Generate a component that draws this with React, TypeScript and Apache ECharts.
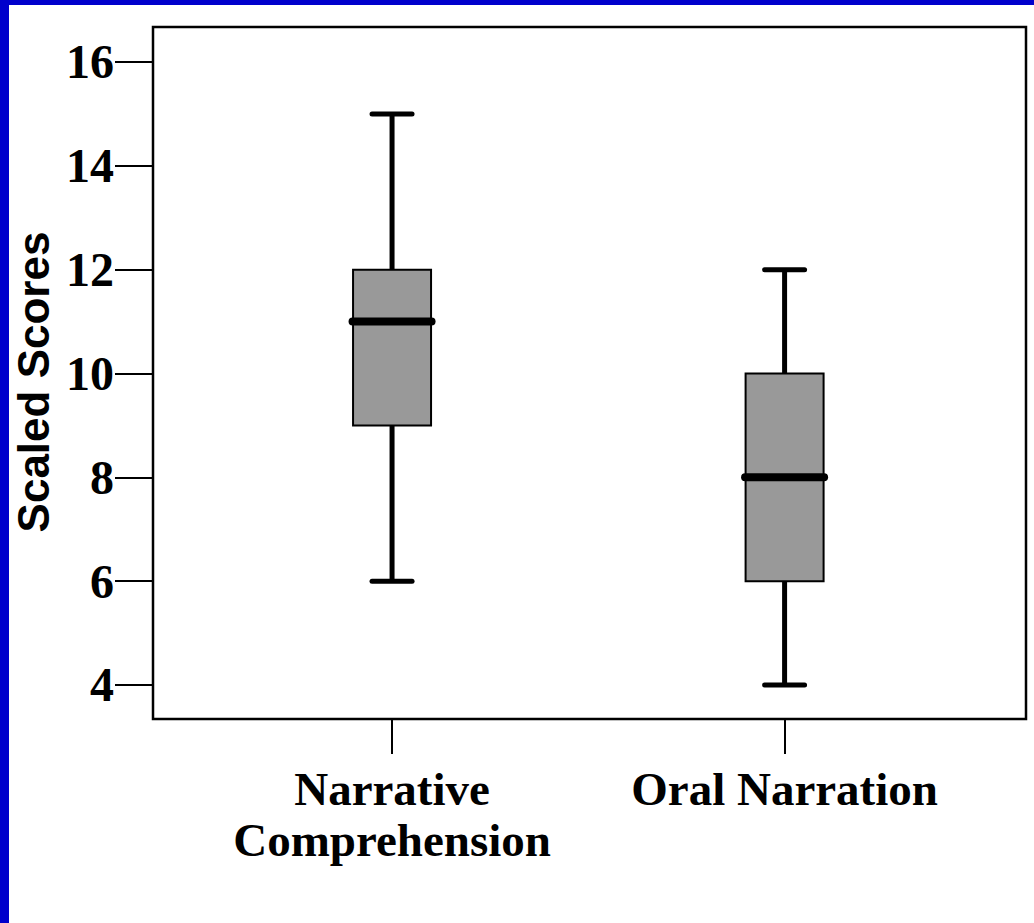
import React, { useEffect, useRef } from "react";
import * as echarts from "echarts";

const categories = ["Narrative\nComprehension", "Oral Narration"];
const positions = [1, 2];
// [min, q1, median, q3, max]
const boxStats = [
  [6, 9, 11, 12, 15],
  [4, 6, 8, 10, 12],
];
const yTicks = [4, 6, 8, 10, 12, 14, 16];

export default function App() {
  const ref = useRef<HTMLDivElement>(null);
  useEffect(() => {
    if (!ref.current) return;
    const chart = echarts.init(ref.current, null, { renderer: "svg" });
    const data = boxStats.map((s, i) => [positions[i], ...s]);
    chart.setOption({
      animation: false,
      backgroundColor: "#ffffff",
      grid: {
        left: 153,
        top: 27,
        right: 8,
        bottom: 204,
        containLabel: false,
        outerBoundsMode: "none",
        show: true,
        borderColor: "#000",
        borderWidth: 2.5,
        backgroundColor: "transparent",
      },
      xAxis: {
        type: "value",
        min: 0.391,
        max: 2.615,
        splitLine: { show: false },
        axisLine: { show: false },
        axisTick: {
          show: true,
          length: 35,
          lineStyle: { color: "#000", width: 2 },
          customValues: positions,
        },
        axisLabel: {
          customValues: positions,
          formatter: (v: number) => {
            const idx = positions.indexOf(Math.round(v));
            return idx >= 0 ? categories[idx] : "";
          },
          margin: 44,
          fontFamily: "Liberation Serif",
          fontWeight: "bold",
          fontSize: 47,
          lineHeight: 51,
          color: "#000",
        },
      },
      yAxis: {
        type: "value",
        min: 3.345,
        max: 16.674,
        name: "Scaled Scores",
        nameLocation: "middle",
        nameRotate: 90,
        nameGap: 90,
        nameTextStyle: {
          fontFamily: "Liberation Sans",
          fontWeight: "bold",
          fontSize: 44,
          color: "#000",
          padding: [0, 18, 0, 0],
        },
        splitLine: { show: false },
        axisLine: { show: false },
        axisTick: {
          show: true,
          length: 38,
          lineStyle: { color: "#000", width: 2 },
          customValues: yTicks,
        },
        axisLabel: {
          customValues: yTicks,
          margin: 39,
          fontFamily: "Liberation Serif",
          fontWeight: "bold",
          fontSize: 48,
          color: "#000",
        },
      },
      series: [
        {
          type: "custom",
          data,
          encode: { x: 0, y: [1, 2, 3, 4, 5] },
          renderItem: (params: any, api: any) => {
            const x = api.value(0);
            const mn = api.coord([x, api.value(1)]);
            const q1 = api.coord([x, api.value(2)]);
            const md = api.coord([x, api.value(3)]);
            const q3 = api.coord([x, api.value(4)]);
            const mx = api.coord([x, api.value(5)]);
            const cx = mn[0];
            const bw = 39;
            const lineStyle = { stroke: "#000", lineWidth: 5, lineCap: "round" };
            return {
              type: "group",
              children: [
                { type: "line", shape: { x1: cx, y1: mn[1], x2: cx, y2: q1[1] }, style: { ...lineStyle, lineCap: "butt" } },
                { type: "line", shape: { x1: cx, y1: q3[1], x2: cx, y2: mx[1] }, style: { ...lineStyle, lineCap: "butt" } },
                { type: "line", shape: { x1: cx - 20, y1: mn[1], x2: cx + 20, y2: mn[1] }, style: lineStyle },
                { type: "line", shape: { x1: cx - 20, y1: mx[1], x2: cx + 20, y2: mx[1] }, style: lineStyle },
                {
                  type: "rect",
                  shape: { x: cx - bw, y: q3[1], width: bw * 2, height: q1[1] - q3[1] },
                  style: { fill: "#999999", stroke: "#000", lineWidth: 2 },
                },
                {
                  type: "line",
                  shape: { x1: cx - 39.5, y1: md[1], x2: cx + 39.5, y2: md[1] },
                  style: { stroke: "#000", lineWidth: 8, lineCap: "round" },
                },
              ],
            };
          },
        },
      ],
    });
    return () => chart.dispose();
  }, []);
  return (
    <div style={{ position: "fixed", left: 0, top: 0, width: 1034, height: 923, background: "#fff" }}>
      <div ref={ref} style={{ position: "absolute", left: 0, top: 0, width: 1034, height: 923 }} />
      <div style={{ position: "absolute", left: 0, top: 0, width: 9, height: 923, background: "#0000CC" }} />
      <div style={{ position: "absolute", left: 0, top: 0, width: 1034, height: 5, background: "#0000CC" }} />
    </div>
  );
}
